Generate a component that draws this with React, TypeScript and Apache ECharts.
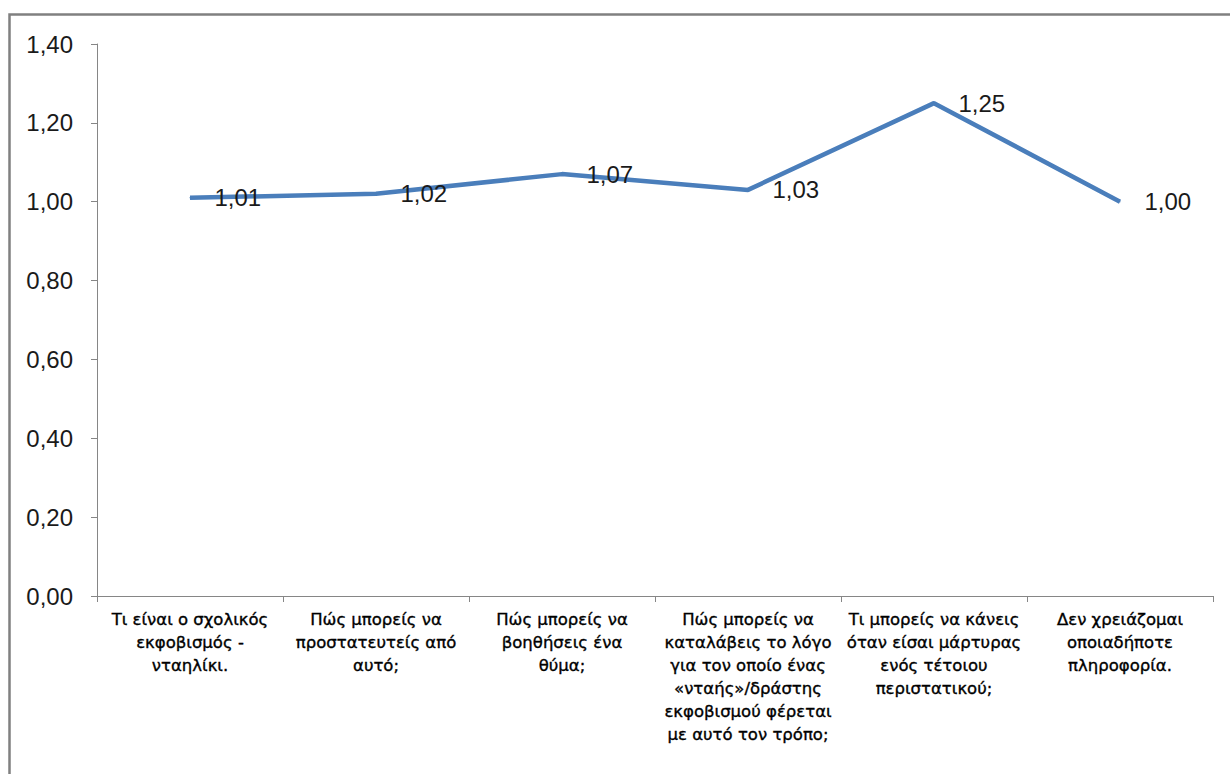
import React, { useEffect, useRef } from "react";
import * as echarts from "echarts";

const categories: string[] = [
  "Τι είναι ο σχολικός\nεκφοβισμός -\nνταηλίκι.",
  "Πώς μπορείς να\nπροστατευτείς από\nαυτό;",
  "Πώς μπορείς να\nβοηθήσεις ένα\nθύμα;",
  "Πώς μπορείς να\nκαταλάβεις το λόγο\nγια τον οποίο ένας\n«νταής»/δράστης\nεκφοβισμού φέρεται\nμε αυτό τον τρόπο;",
  "Τι μπορείς να κάνεις\nόταν είσαι μάρτυρας\nενός τέτοιου\nπεριστατικού;",
  "Δεν χρειάζομαι\nοποιαδήποτε\nπληροφορία.",
];

const values: number[] = [1.01, 1.02, 1.07, 1.03, 1.25, 1.0];

const yMin = 0;
const yMax = 1.4;
const yInterval = 0.2;

const fmt = (v: number) => v.toFixed(2).replace(".", ",");

export default function App() {
  const ref = useRef<HTMLDivElement>(null);

  useEffect(() => {
    if (!ref.current) return;
    const chart = echarts.init(ref.current, undefined, { renderer: "svg" });
    chart.setOption({
      animation: false,
      backgroundColor: "#ffffff",
      graphic: [
        {
          type: "rect",
          shape: { x: 9.5, y: 14.5, width: 1260, height: 800 },
          style: { fill: "none", stroke: "#808080", lineWidth: 2.5 },
          silent: true,
        },
      ],
      grid: { left: 97, right: 17, top: 44, bottom: 178, containLabel: false },
      xAxis: {
        type: "category",
        data: categories,
        boundaryGap: true,
        axisLine: { show: true, lineStyle: { color: "#868686", width: 1 } },
        axisTick: { show: true, length: 6, alignWithLabel: false, lineStyle: { color: "#868686" } },
        axisLabel: {
          interval: 0,
          margin: 12,
          color: "#000000",
          fontFamily: "DejaVu Sans",
          fontSize: 16.5,
          lineHeight: 23,
          align: "center",
          textBorderColor: "#000000",
          textBorderWidth: 0.35,
        },
        splitLine: { show: false },
      },
      yAxis: {
        type: "value",
        min: yMin,
        max: yMax,
        interval: yInterval,
        axisLine: { show: true, lineStyle: { color: "#868686", width: 1 } },
        axisTick: { show: true, length: 6, lineStyle: { color: "#868686" } },
        axisLabel: {
          margin: 24,
          color: "#1a1a1a",
          fontFamily: "Liberation Sans",
          fontSize: 24,
          formatter: (v: number) => fmt(v),
        },
        splitLine: { show: false },
      },
      series: [
        {
          type: "line",
          data: values,
          symbol: "circle",
          symbolSize: 1,
          showSymbol: true,
          itemStyle: { color: "#4A7EBB" },
          lineStyle: { color: "#4A7EBB", width: 4.5 },
          label: {
            show: true,
            position: "right",
            distance: 24,
            color: "#1a1a1a",
            fontFamily: "Liberation Sans",
            fontSize: 24,
            formatter: (p: any) => fmt(p.value),
          },
        },
      ],
    });
    return () => chart.dispose();
  }, []);

  return (
    <div
      ref={ref}
      style={{ position: "absolute", left: 0, top: 0, width: 1230, height: 774 }}
    />
  );
}
